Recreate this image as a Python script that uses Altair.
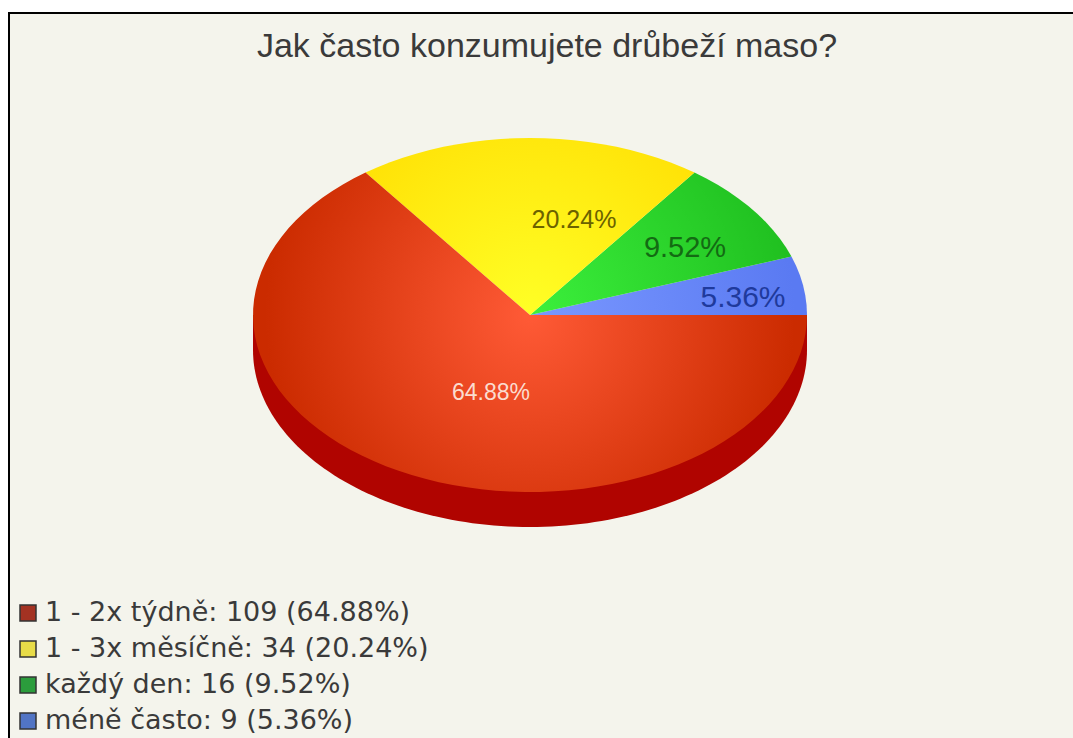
import math
import altair as alt

# Survey answers, in legend order
answers = ["1 - 2x týdně", "1 - 3x měsíčně", "každý den", "méně často"]
counts = [109, 34, 16, 9]
shares = ["64.88%", "20.24%", "9.52%", "5.36%"]
title_text = "Jak často konzumujete drůbeží maso?"

# Pie geometry: circle squashed to a tilted disc, in projection units
RX, RY = 277, 177
DEPTH = 35
CX, CY = 530, 315
SQUASH = RY / RX
STEPS = 120

RING_COLORS = [
    ("#ff5a36", "#cb2b00"),
    ("#ffff26", "#ffdc00"),
    ("#3cf03c", "#20c020"),
    ("#7a98ff", "#5a7af2"),
]
SWATCHES = ["#a33222", "#e8dc48", "#2b9c3c", "#5174c4"]
PAPER = "#f4f4ec"
INK = "#3a3a3a"


def to_feature(points):
    ring = [list(p) for p in points] + [list(points[0])]
    return {"type": "Feature", "properties": {}, "geometry": {"type": "Polygon", "coordinates": [ring]}}


def wedge_points(start, end):
    n = max(4, int(STEPS * (end - start) / (2 * math.pi)))
    arc = [start + (end - start) * i / n for i in range(n + 1)]
    return [(0.0, 0.0)] + [(math.cos(a), SQUASH * math.sin(a)) for a in arc]


def radial_fill(points, inner, outer, reach):
    # Vega maps a radial gradient onto the unit square that covers the shape's box
    xs = [p[0] * RX for p in points]
    ys = [-p[1] * RX for p in points]
    w, h = max(xs) - min(xs), max(ys) - min(ys)
    size = max(w, h)
    u = 0.5 + (0 - (max(xs) + min(xs)) / 2) / size
    v = 0.5 + (0 - (max(ys) + min(ys)) / 2) / size
    return {
        "gradient": "radial",
        "x1": u, "y1": v, "r1": 0,
        "x2": u, "y2": v, "r2": reach / size,
        "stops": [{"offset": 0, "color": inner}, {"offset": 1, "color": outer}],
    }


projection = alt.Projection(type="identity", reflectY=True, scale=RX, translate=[CX, CY])


def shape_layer(points, fill):
    return alt.Chart(alt.Data(values=[to_feature(points)])).mark_geoshape(
        fill=fill, stroke=None, strokeWidth=0
    ).project(**projection.to_dict())


# Frame: paper fill with a black rule along the top and left edges
base = alt.Chart(alt.Data(values=[{"a": 0}]))
paper = base.mark_rect(color=PAPER).encode(
    x=alt.value(8), x2=alt.value(1073), y=alt.value(12), y2=alt.value(738)
)
frame_top = base.mark_rect(color="#000000").encode(
    x=alt.value(8), x2=alt.value(1073), y=alt.value(12), y2=alt.value(14)
)
frame_left = base.mark_rect(color="#000000").encode(
    x=alt.value(8), x2=alt.value(10), y=alt.value(12), y2=alt.value(738)
)

# Rim under the disc
lower = [math.pi + math.pi * i / STEPS for i in range(STEPS + 1)]
drop = DEPTH / RX
rim_points = [(-1.0, 0.0)] + [(math.cos(a), SQUASH * math.sin(a) - drop) for a in lower] + [(1.0, 0.0)]
rim = shape_layer(rim_points, "#b00400")

# Slices run counter-clockwise from the east, smallest answer first
total = sum(counts)
slices = []
angle = 0.0
for idx in reversed(range(len(counts))):
    sweep = 2 * math.pi * counts[idx] / total
    pts = wedge_points(angle, angle + sweep)
    inner, outer = RING_COLORS[idx]
    slices.append(shape_layer(pts, radial_fill(pts, inner, outer, 265)))
    angle += sweep


def plain_text(text, x, y, size, color, font="Liberation Sans"):
    return base.mark_text(
        text=text, font=font, fontSize=size, color=color, align="center", baseline="middle"
    ).encode(x=alt.value(x), y=alt.value(y))


title = plain_text(title_text, 547, 47, 34, INK)
pct_labels = [
    plain_text(shares[0], 491, 393, 23, "#fbdccf"),
    plain_text(shares[1], 574, 220, 25, "#6b6200"),
    plain_text(shares[2], 685, 248, 29, "#136b13"),
    plain_text(shares[3], 743, 298, 30, "#1f3a9c"),
]

# Legend rows
legend_rows = [
    {"key": a, "line": f"{a}: {c} ({s})", "swatch": col}
    for a, c, s, col in zip(answers, counts, shares, SWATCHES)
]
row_y = alt.Y(
    "key:N", sort=answers, axis=None,
    scale=alt.Scale(domain=answers, range=[613, 721], padding=0),
)
legend_data = alt.Data(values=legend_rows)
legend_boxes = alt.Chart(legend_data).mark_point(
    shape="square", filled=True, size=256, stroke="#333333", strokeWidth=1.5, opacity=1
).encode(
    x=alt.value(28), y=row_y,
    fill=alt.Fill("swatch:N", scale=None, legend=None),
)
legend_text = alt.Chart(legend_data).mark_text(
    font="DejaVu Sans", fontSize=27, color=INK, align="left", baseline="middle"
).encode(x=alt.value(45), y=row_y, text="line:N")

chart = alt.layer(
    paper, frame_top, frame_left, rim, *slices, *pct_labels, title, legend_boxes, legend_text
).properties(
    width=1073, height=738, padding=0,
    autosize=alt.AutoSizeParams(type="none"), background="#ffffff",
).configure_view(stroke=None)

chart.save("out.html", embed_options={"renderer": "svg", "actions": False})
